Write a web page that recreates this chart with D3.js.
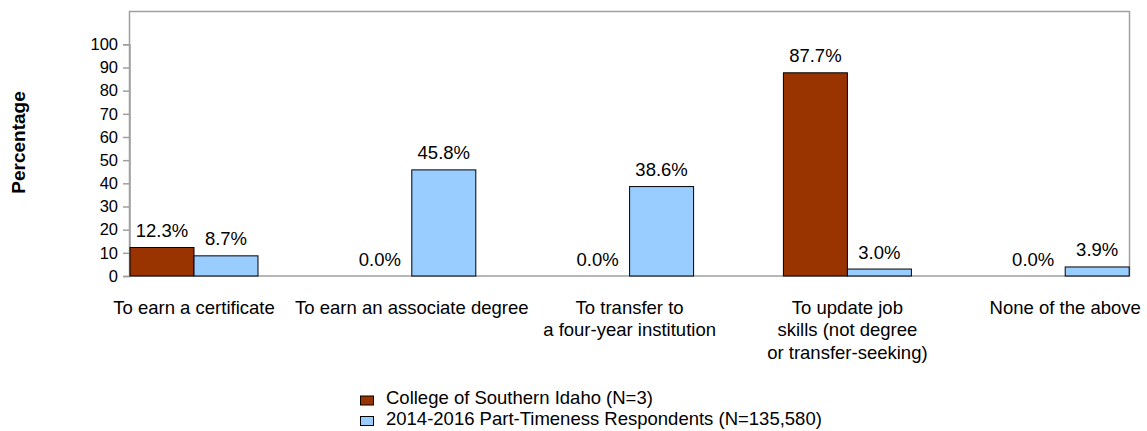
<!DOCTYPE html>
<html><head><meta charset="utf-8">
<script src="https://cdn.jsdelivr.net/npm/d3@7"></script>
<style>body{margin:0;background:#fff}text{font-family:"Liberation Sans",Arial,sans-serif;fill:#000}</style>
</head><body><svg id="c" width="1147" height="431"></svg>
<script>
const categories = ["To earn a certificate","To earn an associate degree","To transfer to|a four-year institution","To update job|skills (not degree|or transfer-seeking)","None of the above"];
const seriesNames = ["College of Southern Idaho (N=3)","2014-2016 Part-Timeness Respondents (N=135,580)"];
const collegeValues = [12.3, 0.0, 0.0, 87.7, 0.0];
const nationalValues = [8.7, 45.8, 38.6, 3.0, 3.9];
const yTicks = [0,10,20,30,40,50,60,70,80,90,100];
const colors = ["#993300","#99ccff"];

const svg = d3.select("#c");
const fs = 18.5;
const x = d3.scaleBand().domain(categories).range([85.1, 1174.1]);
const barW = 64;
const xs = d3.scaleBand().domain([0,1]).range([0, 2*barW]);
const y = d3.scaleLinear().domain([0,100]).range([276, 44.3]);

// frame
svg.append("rect").attr("x",129.5).attr("y",11.5).attr("width",1000).attr("height",264.5)
  .attr("fill","none").attr("stroke","#a0a0a0").attr("stroke-width",1.5);

// y axis
const ya = svg.append("g").attr("transform","translate(129.5,0)")
  .call(d3.axisLeft(y).tickValues(yTicks).tickSize(6.5).tickPadding(5));
ya.select(".domain").attr("stroke","#a0a0a0").attr("stroke-width",1.5);
ya.selectAll(".tick line").attr("stroke","#a0a0a0").attr("stroke-width",1.5);
ya.selectAll(".tick text").attr("font-size",16.5).attr("font-family","Liberation Sans, Arial, sans-serif").attr("fill","#000");

svg.append("text").attr("transform","translate(25,142.5) rotate(-90)").attr("text-anchor","middle")
  .attr("font-size",19).attr("font-weight","bold").text("Percentage");

const series = [collegeValues, nationalValues];
const g = svg.append("g");
categories.forEach((c,i)=>{
  const gx = x(c) + x.bandwidth()/2 - barW;
  series.forEach((vals,s)=>{
    const v = vals[i];
    const bx = gx + xs(s);
    if (v > 0) {
      g.append("rect").attr("x",bx).attr("y",y(v)).attr("width",barW).attr("height",y(0)-y(v))
        .attr("fill",colors[s]).attr("stroke","#000").attr("stroke-width",1);
    }
    g.append("text").attr("x",bx+barW/2).attr("y",y(v)-10.5).attr("text-anchor","middle")
      .attr("font-size",fs).text(v.toFixed(1)+"%");
  });
  const lines = c.split("|");
  const t = svg.append("text").attr("text-anchor","middle").attr("font-size",fs);
  lines.forEach((l,k)=>{
    t.append("tspan").attr("x",x(c)+x.bandwidth()/2).attr("y",313.5+k*22.5).text(l);
  });
});

// legend
seriesNames.forEach((n,s)=>{
  const ly = 404 + s*20.5;
  svg.append("rect").attr("x",360.5).attr("y",ly-8).attr("width",13).attr("height",9)
    .attr("fill",colors[s]).attr("stroke","#000").attr("stroke-width",1);
  svg.append("text").attr("x",386).attr("y",ly).attr("font-size",fs).text(n);
});
</script></body></html>
